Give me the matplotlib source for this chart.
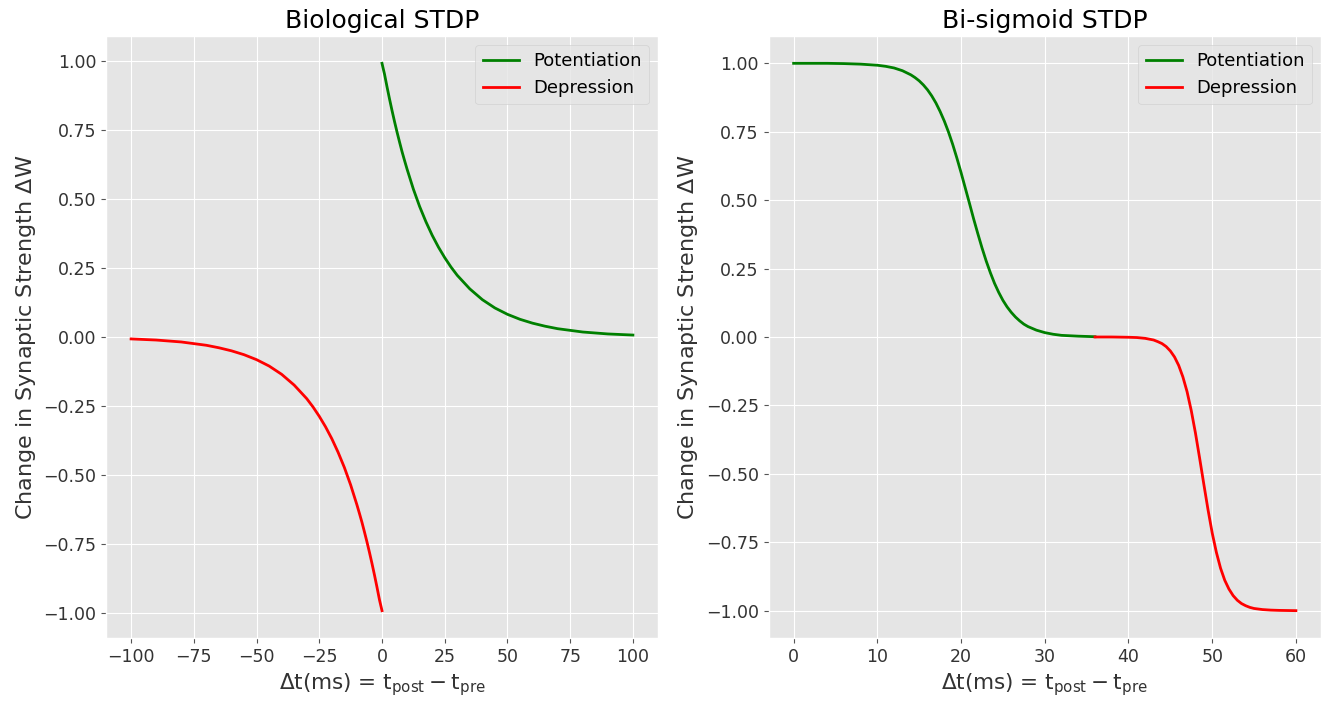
import matplotlib
matplotlib.use("Agg")
import matplotlib.pyplot as plt

plt.style.use("ggplot")
plt.rcParams['font.family'] = ['DejaVu Sans']

# ---- Biological STDP ----
bio_pot_t = [0, 1, 2, 3, 4, 5, 6, 7, 8, 9, 10, 12.5, 15, 17.5, 20, 22.5, 25, 27.5, 30,
             35, 40, 45, 50, 55, 60, 65, 70, 80, 90, 100]
bio_pot_w = [0.990, 0.951, 0.905, 0.861, 0.819, 0.779, 0.741, 0.705, 0.670, 0.638,
             0.607, 0.535, 0.472, 0.417, 0.368, 0.325, 0.287, 0.253, 0.223, 0.174,
             0.135, 0.105, 0.082, 0.064, 0.050, 0.039, 0.030, 0.018, 0.011, 0.007]
bio_dep_t = [-100, -90, -80, -70, -65, -60, -55, -50, -45, -40, -35, -30, -27.5, -25,
             -22.5, -20, -17.5, -15, -12.5, -10, -9, -8, -7, -6, -5, -4, -3, -2, -1, 0]
bio_dep_w = [-0.007, -0.011, -0.018, -0.030, -0.039, -0.050, -0.064, -0.082, -0.105,
             -0.135, -0.174, -0.223, -0.253, -0.287, -0.325, -0.368, -0.417, -0.472,
             -0.535, -0.607, -0.638, -0.670, -0.705, -0.741, -0.779, -0.819, -0.861,
             -0.905, -0.951, -0.990]

# ---- Bi-sigmoid STDP ----
bis_pot_t = [0, 2, 4, 6, 8, 10, 11, 12, 13, 14, 14.5, 15, 15.5, 16, 16.5, 17, 17.5,
             18, 18.5, 19, 19.5, 20, 20.5, 21, 21.5, 22, 22.5, 23, 23.5, 24, 24.5, 25,
             25.5, 26, 26.5, 27, 27.5, 28, 29, 30, 31, 32, 34, 36]
bis_pot_w = [1.000, 1.000, 1.000, 0.999, 0.997, 0.993, 0.989, 0.983, 0.973, 0.958,
             0.948, 0.936, 0.921, 0.903, 0.881, 0.855, 0.824, 0.789, 0.749, 0.704,
             0.654, 0.601, 0.545, 0.489, 0.432, 0.378, 0.326, 0.278, 0.235, 0.196,
             0.163, 0.134, 0.110, 0.090, 0.073, 0.059, 0.047, 0.038, 0.025, 0.016,
             0.010, 0.006, 0.003, 0.001]
bis_dep_t = [36, 38, 40, 41, 42, 43, 43.5, 44, 44.5, 45, 45.5, 46, 46.5, 47, 47.5, 48,
             48.5, 49, 49.5, 50, 50.5, 51, 51.5, 52, 52.5, 53, 53.5, 54, 54.5, 55, 56,
             57, 58, 60]
bis_dep_w = [0.000, 0.000, -0.001, -0.002, -0.005, -0.011, -0.017, -0.024, -0.035,
             -0.051, -0.073, -0.104, -0.146, -0.200, -0.269, -0.351, -0.443, -0.538,
             -0.631, -0.716, -0.787, -0.845, -0.889, -0.921, -0.945, -0.962, -0.974,
             -0.982, -0.988, -0.992, -0.996, -0.998, -0.999, -1.000]

xlabel = r'$\Delta$t(ms) = t$_{\mathrm{post}} - $t$_{\mathrm{pre}}$'
ylabel = r'Change in Synaptic Strength $\Delta$W'
ytick_vals = [-1.0, -0.75, -0.5, -0.25, 0.0, 0.25, 0.5, 0.75, 1.0]
ytick_txt = ['−1.00', '−0.75', '−0.50', '−0.25', '0.00', '0.25', '0.50', '0.75', '1.00']

fig = plt.figure(figsize=(13.25, 7.05), dpi=100)
ax1 = fig.add_axes([0.080, 0.095, 0.4166, 0.854])
ax2 = fig.add_axes([0.580, 0.095, 0.417, 0.854])

ax1.plot(bio_pot_t, bio_pot_w, color='green', lw=2, label='Potentiation')
ax1.plot(bio_dep_t, bio_dep_w, color='red', lw=2, label='Depression')
ax1.set_title('Biological STDP', fontsize=18)
ax1.set_xticks([-100, -75, -50, -25, 0, 25, 50, 75, 100])

ax2.plot(bis_pot_t, bis_pot_w, color='green', lw=2, label='Potentiation')
ax2.plot(bis_dep_t, bis_dep_w, color='red', lw=2, label='Depression')
ax2.set_title('Bi-sigmoid STDP', fontsize=18)
ax2.set_xticks([0, 10, 20, 30, 40, 50, 60])

for ax in (ax1, ax2):
    ax.set_yticks(ytick_vals)
    ax.set_yticklabels(ytick_txt)
    ax.set_xlabel(xlabel, fontsize=15.5, color='#333333')
    ax.set_ylabel(ylabel, fontsize=16, color='#333333')
    ax.tick_params(labelsize=12.5, labelcolor='#333333')
    leg = ax.legend(loc='upper right', fontsize=13)
    for t in leg.get_texts():
        t.set_color('black')

fig.savefig('out.png', dpi=100)
